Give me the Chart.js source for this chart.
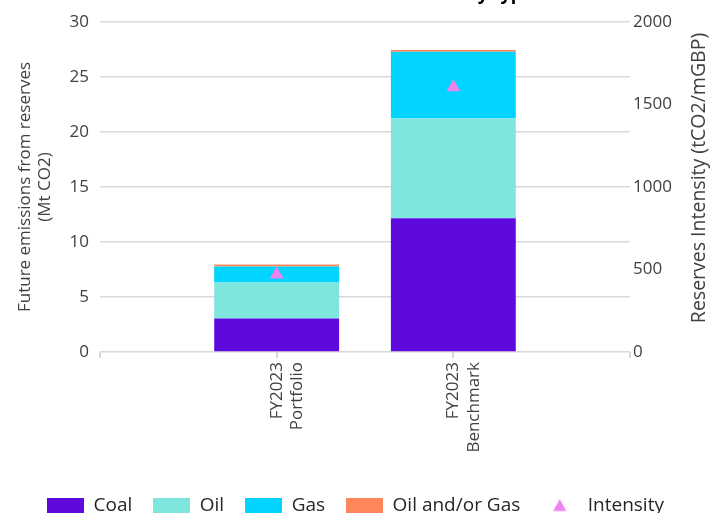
<!DOCTYPE html>
<html>
<head>
<meta charset="utf-8">
<script src="https://cdn.jsdelivr.net/npm/chart.js@4.4.1/dist/chart.umd.min.js"></script>
<style>
  html, body { margin: 0; padding: 0; background: #fff; overflow: hidden; }
  #wrap { position: absolute; left: 0; top: -30px; width: 711px; height: 555px; }
</style>
</head>
<body>
<div id="wrap"><canvas id="reservesChart"></canvas></div>
<script>
// values
const categories = [['FY2023', 'Portfolio'], ['FY2023', 'Benchmark']];
const coalData = [3.05, 12.17];
const oilData = [3.26, 9.08];
const gasData = [1.47, 6.04];
const oilOrGasData = [0.18, 0.16];
const intensityData = [470, 1604];

const coalColor = 'rgb(94, 9, 222)';
const oilColor = 'rgb(127, 230, 222)';
const gasColor = 'rgb(0, 212, 255)';
const oilOrGasColor = 'rgb(255, 133, 90)';
const intensityColor = 'rgb(238, 130, 238)';

// empty slot on each side so the bars sit at 1/3 and 2/3 of the width
const labels = [''].concat(categories, ['']);
const pad = arr => [null].concat(arr, [null]);

function boxIcon(color) {
  const c = document.createElement('canvas');
  c.width = 37; c.height = 16;
  const g = c.getContext('2d');
  g.fillStyle = color;
  g.fillRect(0, 0, 37, 16);
  return c;
}
function triangleIcon(color) {
  const c = document.createElement('canvas');
  c.width = 37; c.height = 16;
  const g = c.getContext('2d');
  g.fillStyle = color;
  g.beginPath();
  g.moveTo(18.5, 1.5);
  g.lineTo(25, 13.5);
  g.lineTo(12, 13.5);
  g.closePath();
  g.fill();
  return c;
}
const legendIcons = [boxIcon(coalColor), boxIcon(oilColor), boxIcon(gasColor), boxIcon(oilOrGasColor), triangleIcon(intensityColor)];

const rightTitle = {
  id: 'rightTitle',
  afterDraw(chart) {
    const ctx = chart.ctx;
    ctx.save();
    ctx.translate(699, 208);
    ctx.rotate(-Math.PI / 2);
    ctx.font = "19.5px 'Open Sans'";
    ctx.fillStyle = '#404040';
    ctx.textAlign = 'center';
    ctx.textBaseline = 'middle';
    ctx.fillText('Reserves Intensity (tCO2/mGBP)', 0, 0);
    ctx.restore();
  }
};

Chart.defaults.font.family = "'Open Sans', sans-serif";
Chart.defaults.color = '#404040';

const ctx = document.getElementById('reservesChart').getContext('2d');
new Chart(ctx, {
  type: 'bar',
  data: {
    labels: labels,
    datasets: [
      { label: 'Coal', data: pad(coalData), backgroundColor: coalColor, order: 1 },
      { label: 'Oil', data: pad(oilData), backgroundColor: oilColor, order: 1 },
      { label: 'Gas', data: pad(gasData), backgroundColor: gasColor, order: 1 },
      { label: 'Oil and/or Gas', data: pad(oilOrGasData), backgroundColor: oilOrGasColor, order: 1 },
      {
        type: 'line',
        label: 'Intensity',
        data: pad(intensityData),
        yAxisID: 'y1',
        stack: 'intensity',
        showLine: false,
        pointStyle: 'triangle',
        pointRadius: 8,
        pointBorderWidth: 0,
        pointBackgroundColor: intensityColor,
        borderColor: intensityColor,
        order: 0
      }
    ]
  },
  options: {
    responsive: true,
    maintainAspectRatio: false,
    animation: false,
    barPercentage: 0.707,
    categoryPercentage: 1,
    layout: { padding: 0 },
    plugins: {
      title: {
        display: true,
        text: 'Future emissions from reserves by type',
        color: '#000',
        font: { size: 18, weight: 'bold' },
        padding: { top: 14, bottom: 16.4 }
      },
      legend: {
        position: 'bottom',
        labels: {
          usePointStyle: true,
          pointStyleWidth: 37,
          boxHeight: 16,
          padding: 21,
          font: { size: 19 },
          color: '#262626',
          sort: (a, b) => a.datasetIndex - b.datasetIndex,
          generateLabels: function (chart) {
            const items = Chart.defaults.plugins.legend.labels.generateLabels(chart);
            items.forEach(function (item) { item.pointStyle = legendIcons[item.datasetIndex]; });
            return items;
          }
        }
      },
      tooltip: { enabled: false }
    },
    scales: {
      x: {
        stacked: true,
        offset: false,
        border: { display: false },
        grid: { offset: false, drawOnChartArea: false, drawTicks: true, tickLength: 6, color: '#d9d9d9', lineWidth: 2 },
        ticks: { minRotation: 90, maxRotation: 90, autoSkip: false, padding: 4, font: { size: 17 } },
        afterFit: scale => { scale.height = 123; }
      },
      y: {
        stacked: true,
        position: 'left',
        min: 0,
        max: 30,
        border: { display: false },
        grid: { color: '#d9d9d9', lineWidth: 1.5, drawTicks: false },
        ticks: { stepSize: 5, padding: 11, font: { size: 17 } },
        title: {
          display: true,
          text: ['Future emissions from reserves', '(Mt CO2)'],
          font: { size: 17 },
          padding: { top: 15, bottom: 0 }
        },
        afterFit: scale => { scale.width = 100; }
      },
      y1: {
        position: 'right',
        min: 0,
        max: 2000,
        border: { display: false },
        grid: { drawOnChartArea: false, drawTicks: false },
        ticks: { stepSize: 500, padding: 3, font: { size: 17 }, callback: v => String(v) },
        afterFit: scale => { scale.width = 81; }
      }
    }
  },
  plugins: [rightTitle]
});
</script>
</body>
</html>
